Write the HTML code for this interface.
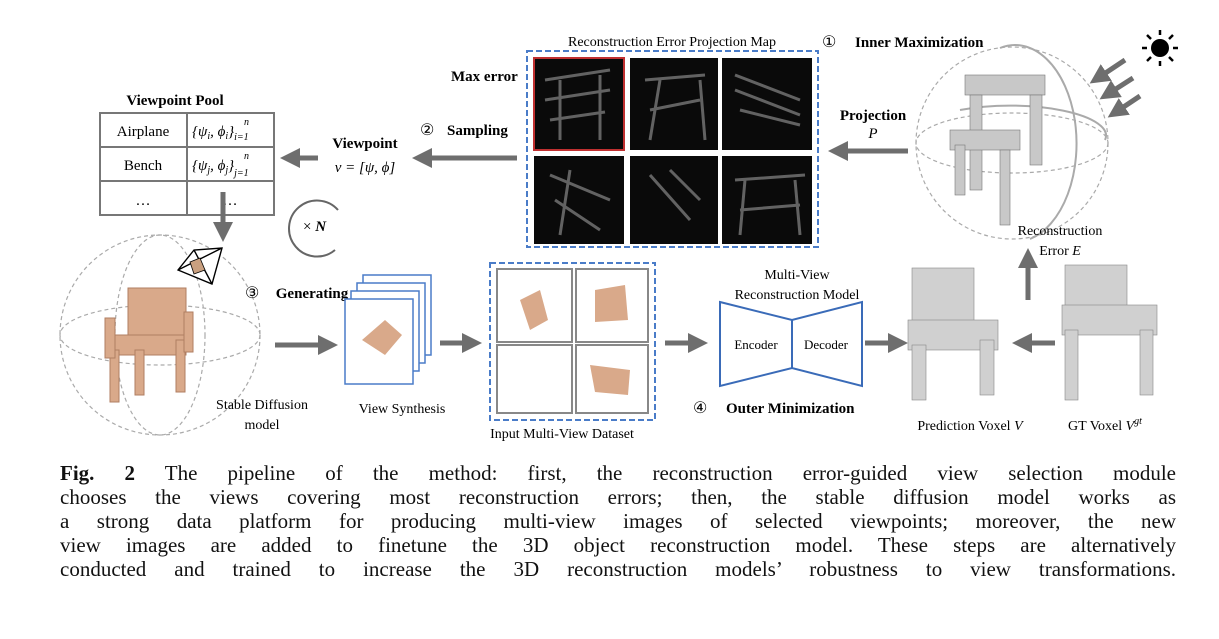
<!DOCTYPE html>
<html><head><meta charset="utf-8"><style>
body{margin:0;background:#fff;width:1219px;height:639px;overflow:hidden;font-family:"Liberation Serif",serif}
.cap{position:absolute;left:60px;width:1116px;font-size:21px;color:#111;text-align:justify;text-align-last:justify;white-space:nowrap}
</style></head><body>
<svg width="1219" height="460" style="position:absolute;left:0;top:0" font-family="Liberation Serif, serif">
<defs>
<marker id="ah" markerWidth="4" markerHeight="4" refX="2" refY="2" orient="auto" markerUnits="strokeWidth"><path d="M0,0 L4,2 L0,4 z" fill="#6e6e6e"/></marker>
</defs>
<text x="175" y="105" font-size="15" font-weight="bold" text-anchor="middle">Viewpoint Pool</text>
<g stroke="#777" stroke-width="2" fill="none">
<rect x="100" y="113" width="174" height="102"/>
<line x1="100" y1="147" x2="274" y2="147"/><line x1="100" y1="181" x2="274" y2="181"/>
<line x1="187" y1="113" x2="187" y2="215"/>
</g>
<text x="143" y="136" font-size="15" text-anchor="middle">Airplane</text>
<text x="143" y="170" font-size="15" text-anchor="middle">Bench</text>
<text x="143" y="205" font-size="15" text-anchor="middle">…</text>
<text x="192" y="136" font-size="15" font-style="italic">{ψ<tspan font-size="10" dy="3">i</tspan><tspan dy="-3">, ϕ</tspan><tspan font-size="10" dy="3">i</tspan><tspan dy="-3">}</tspan><tspan font-size="10" dy="4">i=1</tspan></text>
<text x="244" y="125" font-size="10" font-style="italic">n</text>
<text x="192" y="170" font-size="15" font-style="italic">{ψ<tspan font-size="10" dy="3">j</tspan><tspan dy="-3">, ϕ</tspan><tspan font-size="10" dy="3">j</tspan><tspan dy="-3">}</tspan><tspan font-size="10" dy="6">j=1</tspan></text>
<text x="244" y="159" font-size="10" font-style="italic">n</text>
<text x="230" y="205" font-size="15" text-anchor="middle">…</text>
<g stroke="#6e6e6e" stroke-width="5" marker-end="url(#ah)">
<line x1="223" y1="192" x2="223" y2="232"/>
<line x1="318" y1="158" x2="290" y2="158"/>
<line x1="517" y1="158" x2="422" y2="158"/>
<line x1="908" y1="151" x2="838" y2="151"/>
<line x1="1028" y1="300" x2="1028" y2="258"/>
<line x1="275" y1="345" x2="328" y2="345"/>
<line x1="440" y1="343" x2="472" y2="343"/>
<line x1="665" y1="343" x2="698" y2="343"/>
<line x1="865" y1="343" x2="898" y2="343"/>
<line x1="1055" y1="343" x2="1022" y2="343"/>
<line x1="1125" y1="60" x2="1098" y2="78"/>
<line x1="1133" y1="78" x2="1108" y2="94"/>
<line x1="1140" y1="96" x2="1116" y2="112"/>
</g>
<text x="365" y="148" font-size="15" font-weight="bold" text-anchor="middle">Viewpoint</text>
<text x="365" y="172" font-size="15" text-anchor="middle" font-style="italic">v = [ψ, ϕ]</text>
<text x="420" y="135" font-size="16">②</text>
<text x="447" y="135" font-size="15" font-weight="bold">Sampling</text>
<path d="M338,210 A28,28 0 1 0 335,250" stroke="#666" stroke-width="2" fill="none"/>
<text x="303" y="231" font-size="15">× <tspan font-weight="bold" font-style="italic">N</tspan></text>
<text x="672" y="46" font-size="14" text-anchor="middle">Reconstruction Error Projection Map</text>
<text x="822" y="47" font-size="16">①</text>
<text x="855" y="47" font-size="15" font-weight="bold">Inner Maximization</text>
<text x="451" y="81" font-size="15" font-weight="bold">Max error</text>
<rect x="527" y="51" width="291" height="196" fill="none" stroke="#4a7cc8" stroke-width="2" stroke-dasharray="6,3"/>
<g fill="#0a0a0a">
<rect x="534" y="58" width="90" height="92"/><rect x="630" y="58" width="88" height="92"/><rect x="722" y="58" width="90" height="92"/>
<rect x="534" y="156" width="90" height="88"/><rect x="630" y="156" width="88" height="88"/><rect x="722" y="156" width="90" height="88"/>
</g>
<rect x="534" y="58" width="90" height="92" fill="none" stroke="#c03030" stroke-width="2"/>
<g stroke="#888" stroke-width="3" opacity="0.7" fill="none">
<path d="M545,80 L610,70 M545,100 L610,90 M550,120 L605,112 M560,80 L560,140 M600,75 L600,140"/>
<path d="M645,80 L705,75 M650,110 L700,100 M660,80 L650,140 M700,80 L705,140"/>
<path d="M735,75 L800,100 M735,90 L800,115 M740,110 L800,125"/>
<path d="M550,175 L610,200 M555,200 L600,230 M570,170 L560,235"/>
<path d="M650,175 L690,220 M670,170 L700,200"/>
<path d="M735,180 L805,175 M740,210 L800,205 M745,180 L740,235 M795,180 L800,235"/>
</g>
<text x="873" y="120" font-size="15" font-weight="bold" text-anchor="middle">Projection</text>
<text x="873" y="138" font-size="15" font-style="italic" text-anchor="middle">P</text>
<circle cx="1012" cy="143" r="96" fill="none" stroke="#aaa" stroke-width="1.2" stroke-dasharray="4,3"/>
<ellipse cx="1012" cy="143" rx="96" ry="30" fill="none" stroke="#aaa" stroke-width="1.2" stroke-dasharray="4,3"/>
<path d="M1000,48 A60,96 0 0 1 1030,239" fill="none" stroke="#aaa" stroke-width="2"/>
<path d="M960,110 A96,30 0 0 1 1105,140" fill="none" stroke="#aaa" stroke-width="2"/>
<g fill="#c8c8c8" stroke="#777" stroke-width="0.6">
<rect x="965" y="75" width="80" height="20"/><rect x="970" y="95" width="12" height="95"/><rect x="1030" y="95" width="12" height="70"/>
<rect x="950" y="130" width="70" height="20"/><rect x="1000" y="150" width="10" height="75"/><rect x="955" y="145" width="10" height="50"/>
</g>
<text x="1060" y="235" font-size="14" text-anchor="middle">Reconstruction</text>
<text x="1060" y="255" font-size="14" text-anchor="middle">Error <tspan font-style="italic">E</tspan></text>
<circle cx="1160" cy="48" r="9" fill="#000"/>
<g stroke="#000" stroke-width="2.5"><line x1="1160" y1="30" x2="1160" y2="35"/><line x1="1160" y1="61" x2="1160" y2="66"/><line x1="1142" y1="48" x2="1147" y2="48"/><line x1="1173" y1="48" x2="1178" y2="48"/><line x1="1147" y1="35" x2="1151" y2="39"/><line x1="1169" y1="57" x2="1173" y2="61"/><line x1="1173" y1="35" x2="1169" y2="39"/><line x1="1147" y1="61" x2="1151" y2="57"/></g>
<circle cx="160" cy="335" r="100" fill="none" stroke="#aaa" stroke-width="1.2" stroke-dasharray="4,3"/>
<ellipse cx="160" cy="335" rx="100" ry="30" fill="none" stroke="#aaa" stroke-width="1.2" stroke-dasharray="4,3"/>
<ellipse cx="160" cy="335" rx="45" ry="100" fill="none" stroke="#aaa" stroke-width="1.2" stroke-dasharray="4,3"/>
<g fill="#d9a98a" stroke="#b07e62" stroke-width="1">
<rect x="128" y="288" width="58" height="52"/><rect x="108" y="335" width="78" height="20"/>
<rect x="110" y="350" width="9" height="52"/><rect x="176" y="340" width="9" height="52"/><rect x="135" y="350" width="9" height="45"/>
<rect x="105" y="318" width="10" height="40"/><rect x="184" y="312" width="9" height="40"/>
</g>
<path d="M178,270 L194,250 L222,248 L212,284 Z M194,250 L212,284 M178,270 L222,248" fill="#fff" stroke="#000" stroke-width="1.4"/>
<path d="M190,262 L200,258 L205,270 L194,274 Z" fill="#c9a080" stroke="#000" stroke-width="0.8"/>
<text x="245" y="298" font-size="16">③</text>
<text x="262" y="409" font-size="14" text-anchor="middle">Stable Diffusion</text>
<text x="262" y="429" font-size="14" text-anchor="middle">model</text>
<text x="312" y="298" font-size="15" font-weight="bold" text-anchor="middle">Generating</text>
<g fill="#fff" stroke="#4a7cc8" stroke-width="1.5">
<rect x="363" y="275" width="68" height="80"/><rect x="357" y="283" width="68" height="80"/><rect x="351" y="291" width="68" height="80"/><rect x="345" y="299" width="68" height="85"/>
</g>
<path d="M362,340 L385,320 L402,335 L385,355 Z" fill="#d9a98a"/>
<text x="402" y="413" font-size="14" text-anchor="middle">View Synthesis</text>
<rect x="490" y="263" width="165" height="157" fill="none" stroke="#4a7cc8" stroke-width="2" stroke-dasharray="6,3"/>
<g fill="#fff" stroke="#888" stroke-width="2">
<rect x="497" y="269" width="75" height="73"/><rect x="576" y="269" width="72" height="73"/>
<rect x="497" y="345" width="75" height="68"/><rect x="576" y="345" width="72" height="68"/>
</g>
<g fill="#d9a98a"><path d="M520,300 L540,290 L548,320 L530,330Z"/><path d="M595,290 L625,285 L628,320 L595,322Z"/><path d="M590,365 L630,370 L628,395 L595,392Z"/></g>
<text x="562" y="438" font-size="14" text-anchor="middle">Input Multi-View Dataset</text>
<text x="797" y="279" font-size="14" text-anchor="middle">Multi-View</text>
<text x="797" y="299" font-size="14" text-anchor="middle">Reconstruction Model</text>
<path d="M720,302 L792,320 L862,302 L862,386 L792,368 L720,386 Z M792,320 L792,368" fill="none" stroke="#3a6bb8" stroke-width="2"/>
<text x="756" y="349" font-size="13" text-anchor="middle">Encoder</text>
<text x="826" y="349" font-size="13" text-anchor="middle">Decoder</text>
<text x="693" y="413" font-size="16">④</text>
<text x="726" y="413" font-size="15" font-weight="bold">Outer Minimization</text>
<g fill="#d0d0d0" stroke="#888" stroke-width="0.6">
<rect x="912" y="268" width="62" height="55"/><rect x="908" y="320" width="90" height="30"/><rect x="912" y="345" width="14" height="55"/><rect x="980" y="340" width="14" height="55"/>
<rect x="1065" y="265" width="62" height="45"/><rect x="1062" y="305" width="95" height="30"/><rect x="1065" y="330" width="13" height="70"/><rect x="1140" y="330" width="13" height="65"/>
</g>
<text x="970" y="430" font-size="14" text-anchor="middle">Prediction Voxel <tspan font-style="italic">V</tspan></text>
<text x="1105" y="430" font-size="14" text-anchor="middle">GT Voxel <tspan font-style="italic">V</tspan><tspan font-size="10" dy="-6" font-style="italic">gt</tspan></text>
</svg>
<div class="cap" style="top:461px"><b>Fig. 2</b> The pipeline of the method: first, the reconstruction error-guided view selection module</div>
<div class="cap" style="top:485px">chooses the views covering most reconstruction errors; then, the stable diffusion model works as</div>
<div class="cap" style="top:509px">a strong data platform for producing multi-view images of selected viewpoints; moreover, the new</div>
<div class="cap" style="top:533px">view images are added to finetune the 3D object reconstruction model. These steps are alternatively</div>
<div class="cap" style="top:557px">conducted and trained to increase the 3D reconstruction models’ robustness to view transformations.</div>
</body></html>
